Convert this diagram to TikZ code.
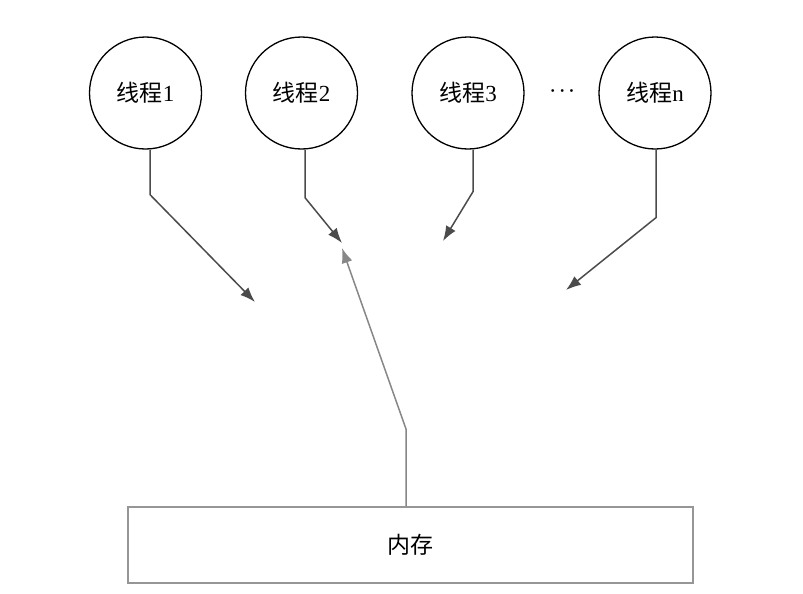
\documentclass[tikz,border=0pt]{standalone}
\usepackage{amsmath,amssymb}
\usepackage{fontspec}
\setmainfont{Liberation Serif}
\newfontfamily\cjk{Noto Sans CJK SC}
\usepackage{tikz}
\usetikzlibrary{arrows.meta}
\tikzset{>={Latex[length=7.5pt,width=5.5pt]}}
\definecolor{thrgray}{RGB}{75,75,75}
\definecolor{memgray}{RGB}{135,135,135}
\definecolor{boxgray}{RGB}{150,150,150}

\begin{document}
\begin{tikzpicture}[x=0.5pt, y=-0.5pt,
	thread/.style={draw, circle, line width=0.65pt, minimum size=56pt, inner sep=0pt, font=\fontsize{11.5}{13}\selectfont},
	memory/.style={draw=boxgray, line width=1pt, minimum width=282.5pt, minimum height=38pt, inner sep=0pt, font=\fontsize{11.5}{13}\selectfont},
	tolink/.style={thrgray, line width=0.75pt, ->},
	fromlink/.style={memgray, line width=0.75pt, ->}]
\useasboundingbox (0,0) rectangle (803,594);

% threads on top
\foreach \x / \n in {145.5/1, 301.5/2, 468/3, 655/n}{
	\node[thread] (t\n) at (\x, 93) {{\cjk 线程}\n};
}
\node[font=\fontsize{9}{10}\selectfont] (dots) at (564, 91) {$\boldsymbol{\cdots}$};

% memory below
\node[memory] (mem) at (410.5, 545) {\cjk 内存};

% where the arrows end
\coordinate (e1) at (255, 302);
\coordinate (e2) at (342, 243);
\coordinate (e3) at (443, 241);
\coordinate (en) at (566, 290);
\coordinate (em) at (342, 248);

\draw[tolink] ([xshift=2.25pt]t1.south) -- ++(0, 45) -- (e1);
\draw[tolink] ([xshift=1.75pt]t2.south) -- ++(0, 48) -- (e2);
\draw[tolink] ([xshift=2.5pt]t3.south) -- ++(0, 42) -- (e3);
\draw[tolink] ([xshift=0.5pt]tn.south) -- ++(0, 68) -- (en);
\draw[fromlink] ([xshift=-2.25pt]mem.north) -- ++(0, -77) -- (em);

\end{tikzpicture}
\end{document}
